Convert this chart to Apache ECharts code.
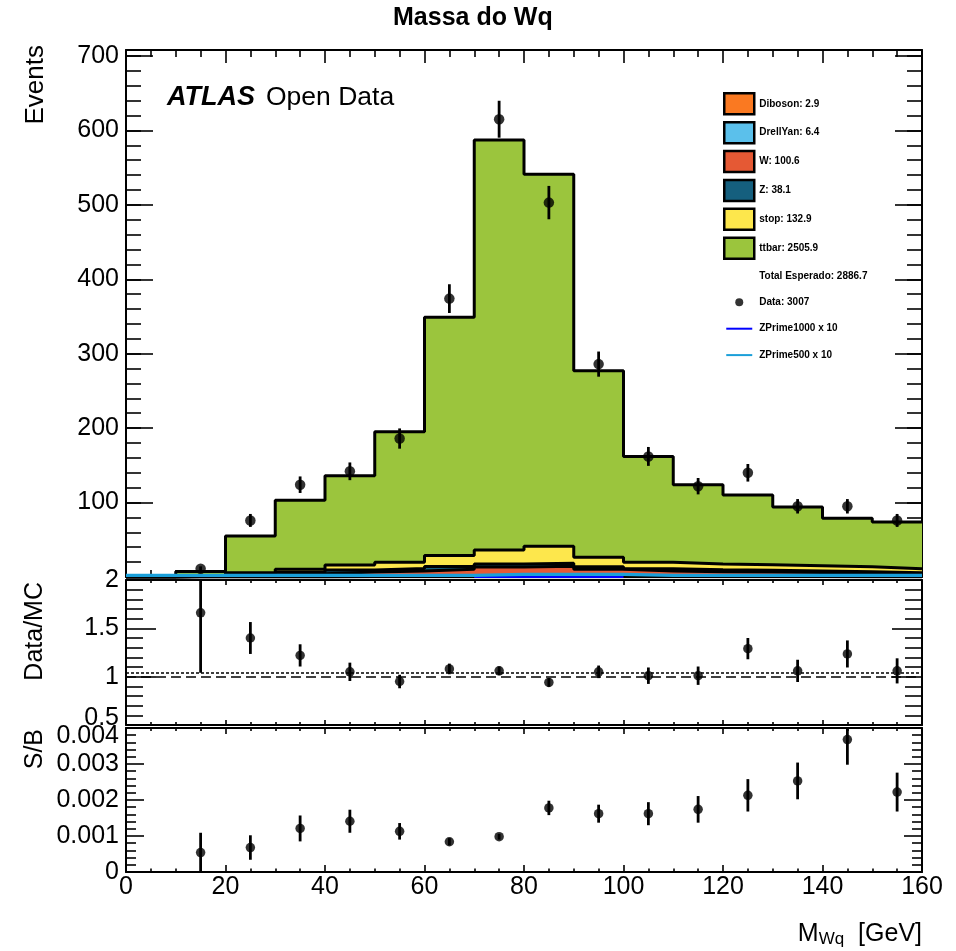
<!DOCTYPE html>
<html>

<head>
    <meta http-equiv="Content-Type" content="text/html; charset=utf-8" />
    <title>Massa do Wq</title>
    <script src="https://cdn.jsdelivr.net/npm/echarts@6/dist/echarts.min.js"></script>
    <style>
        html, body { margin: 0; padding: 0; background: #fff; }
        #div1 { width: 956px; height: 951px; }
    </style>
</head>

<body>
    <div id="div1"></div>
    <script type="text/javascript">
        // M_Wq bins [GeV]
        var binEdges = [0, 10, 20, 30, 40, 50, 60, 70, 80, 90, 100, 110, 120, 130, 140, 150, 160];

        // MC samples per bin, stacked bottom -> top
        var diboson   = [0, 0, 0, 0.1, 0.2, 0.2, 0.3, 0.3, 0.3, 0.3, 0.2, 0.2, 0.2, 0.2, 0.2, 0.2];
        var drellYan  = [0, 0.2, 0.3, 0.4, 0.5, 0.5, 0.6, 0.6, 0.6, 0.5, 0.5, 0.5, 0.4, 0.4, 0.3, 0.1];
        var wJets     = [0, 1.0, 2.5, 4.0, 6.0, 7.5, 9.5, 12.5, 13.5, 9.5, 7.5, 6.5, 6.0, 5.5, 4.8, 4.3];
        var zJets     = [0, 0.3, 1.0, 2.0, 2.8, 3.2, 3.8, 4.2, 4.2, 3.6, 3.0, 2.6, 2.5, 2.0, 1.7, 1.2];
        var singleTop = [0, 0.6, 1.8, 3.9, 6.7, 8.3, 14.8, 18.7, 22.8, 12.8, 8.5, 7.6, 7.3, 7.1, 6.7, 5.3];
        var ttbar     = [0, 5.4, 49.4, 92.6, 119.8, 175.3, 320, 550.7, 499.6, 250.3, 142.3, 106.6, 93.6, 78.8, 65.3, 62.9];
        var sampleNames = ['Diboson: 2.9', 'DrellYan: 6.4', 'W: 100.6', 'Z: 38.1', 'stop: 132.9', 'ttbar: 2505.9'];
        var sampleColors = ['#fa7921', '#5bc0eb', '#e55934', '#155f7e', '#fde74c', '#9bc53d'];

        // signal x 10
        var zPrime1000 = [0, 0, 0, 0, 0, 0, 0, 0.8, 0.8, 0.8, 0, 0, 0, 0, 0, 0];
        var zPrime500  = [2.2, 2.2, 2.2, 2.2, 2.2, 2.2, 2.2, 3.5, 3.5, 3.5, 2.2, 2.2, 2.2, 2.2, 2.2, 2.2];

        // data points
        var binCenters = [15, 25, 35, 45, 55, 65, 75, 85, 95, 105, 115, 125, 135, 145, 155];
        var dataCounts = [11, 76, 124, 142, 186, 374, 615, 503, 286, 162, 122, 140, 95, 95, 76];
        var dataErrors = [3.3, 8.7, 11.1, 11.9, 13.6, 19.3, 24.8, 22.4, 16.9, 12.7, 11.0, 11.8, 9.7, 9.7, 8.7];

        // Data/MC
        var ratioValues = [1.66, 1.40, 1.22, 1.05, 0.95, 1.08, 1.06, 0.94, 1.05, 1.01, 1.01, 1.29, 1.06, 1.235, 1.06];
        var ratioErrors = [0.62, 0.165, 0.115, 0.095, 0.07, 0.055, 0.045, 0.045, 0.065, 0.085, 0.095, 0.11, 0.115, 0.14, 0.13];
        var ratioRefLines = [1, 1.042];

        // S/B
        var sbValues = [0.00054, 0.00068, 0.00121, 0.00141, 0.00113, 0.00084, 0.00098, 0.00178, 0.00162, 0.00162, 0.00174, 0.00213, 0.00253, 0.00368, 0.00222];
        var sbErrors = [0.00055, 0.00034, 0.00036, 0.00032, 0.00023, 0.0001, 0.00008, 0.0002, 0.00025, 0.00032, 0.00037, 0.00045, 0.00051, 0.0007, 0.00054];

        var FONT = 'Liberation Sans, Arial, Helvetica, sans-serif';
        var myChart = echarts.init(document.getElementById('div1'));

        // histogram outline points, one flat segment per bin
        function histPoints(values) {
            var pts = [];
            for (var i = 0; i < values.length; i++) {
                var v = values[i] === null ? '-' : values[i];
                pts.push([binEdges[i], v]);
                pts.push([binEdges[i + 1], v]);
            }
            return pts;
        }

        function errorBars(xIdx, yIdx, ys, es) {
            return {
                type: 'custom', xAxisIndex: xIdx, yAxisIndex: yIdx, clip: true, silent: true, z: 5,
                encode: { x: 0, y: 1 },
                data: binCenters.map(function (x, i) { return [x, ys[i], es[i]]; }),
                renderItem: function (params, api) {
                    var x = api.value(0), y = api.value(1), e = api.value(2);
                    var p1 = api.coord([x, y - e]), p2 = api.coord([x, y + e]);
                    return {
                        type: 'line',
                        shape: { x1: p1[0], y1: p1[1], x2: p2[0], y2: p2[1] },
                        style: { stroke: '#000', lineWidth: 2.8 }
                    };
                }
            };
        }

        function markers(name, xIdx, yIdx, ys, size) {
            return {
                name: name, type: 'scatter', xAxisIndex: xIdx, yAxisIndex: yIdx, silent: true, z: 6,
                symbol: 'circle', symbolSize: size, itemStyle: { color: '#000' },
                data: binCenters.map(function (x, i) { return [x, ys[i]]; })
            };
        }

        var tickStyle = { color: '#000', width: 1.6 };

        function xAx(grid, pos, major, minor, showLabels) {
            return {
                type: 'value', gridIndex: grid, position: pos, min: 0, max: 160, interval: 20,
                axisLine: { show: true, onZero: false, lineStyle: { color: '#000', width: 2 } },
                axisTick: { show: true, inside: true, length: major, lineStyle: tickStyle },
                minorTick: { show: true, splitNumber: 4, length: minor, lineStyle: tickStyle },
                axisLabel: showLabels ? { show: true, margin: 3, fontSize: 25, color: '#000', fontFamily: FONT } : { show: false },
                splitLine: { show: false }
            };
        }

        function yAx(grid, pos, o) {
            return {
                type: 'value', gridIndex: grid, position: pos, min: o.min, max: o.max, interval: o.interval,
                axisLine: { show: o.line !== false, onZero: false, lineStyle: { color: '#000', width: 2 } },
                axisTick: { show: true, inside: true, length: o.tick, lineStyle: tickStyle },
                minorTick: { show: !!o.minor, splitNumber: 5, length: o.minor || 0, lineStyle: tickStyle },
                axisLabel: o.label ? {
                    show: true, margin: 7, fontSize: 25, color: '#000', fontFamily: FONT,
                    formatter: o.label, rich: o.rich
                } : { show: false },
                splitLine: { show: false }
            };
        }

        var mainLabel = function (v) { return (v > 0 && v % 100 === 0) ? String(v) : ''; };
        var ratioLabel = function (v) { return v === 0.5 ? '{lo|0.5}' : String(v); };
        var sbLabel = function (v) { return Math.abs(v - 0.004) < 1e-9 ? '{hi|0.004}' : String(v); };
        var richText = { fontSize: 25, fontFamily: FONT, color: '#000' };

        // cumulative stack
        var components = [diboson, drellYan, wJets, zJets, singleTop, ttbar];
        var cumulative = [];
        var running = components[0].map(function () { return 0; });
        components.forEach(function (c) {
            running = running.map(function (v, i) { return v + c[i]; });
            cumulative.push(running.slice());
        });

        var series = [];
        // draw like THStack: largest sum first
        for (var k = components.length - 1; k >= 0; k--) {
            series.push({
                name: sampleNames[k], type: 'line', xAxisIndex: 0, yAxisIndex: 0,
                data: histPoints(cumulative[k]), symbol: 'none', silent: true,
                color: sampleColors[k],
                lineStyle: { color: '#000', width: 3 },
                areaStyle: { color: sampleColors[k], opacity: 1 }
            });
        }
        series.push({ name: 'Total Esperado: 2886.7', type: 'line', xAxisIndex: 0, yAxisIndex: 0, data: [], symbol: 'none' });
        series.push({
            name: 'ZPrime1000 x 10', type: 'line', xAxisIndex: 0, yAxisIndex: 0, symbol: 'none', silent: true,
            color: '#0000ff', lineStyle: { color: '#0000ff', width: 3 },
            data: histPoints(zPrime1000.map(function (v) { return v > 0 ? v : null; }))
        });
        series.push({
            name: 'ZPrime500 x 10', type: 'line', xAxisIndex: 0, yAxisIndex: 0, symbol: 'none', silent: true,
            color: '#1a9fd9', lineStyle: { color: '#1a9fd9', width: 3.2 },
            data: histPoints(zPrime500)
        });
        series.push(errorBars(0, 0, dataCounts, dataErrors));
        series.push(markers('Data: 3007', 0, 0, dataCounts, 10.5));

        series.push(errorBars(2, 4, ratioValues, ratioErrors));
        var ratioMarks = markers('ratio', 2, 4, ratioValues, 9.5);
        ratioMarks.markLine = {
            silent: true, symbol: 'none', label: { show: false }, animation: false,
            data: [
                { yAxis: ratioRefLines[0], lineStyle: { color: '#000', width: 1.5, type: [10, 5] } },
                { yAxis: ratioRefLines[1], lineStyle: { color: '#000', width: 1.5, type: [3, 2] } }
            ]
        };
        series.push(ratioMarks);

        series.push(errorBars(4, 6, sbValues, sbErrors));
        series.push(markers('sb', 4, 6, sbValues, 9.5));

        var circleIcon = 'path://M0,0L0,0M30,21L30,21M11,10.5A4,4,0,1,1,19,10.5A4,4,0,1,1,11,10.5Z';
        var lineIcon = 'path://M0,0L0,0M30,21L30,21M2,9.5L28,9.5L28,11.5L2,11.5Z';
        var legendData = sampleNames.map(function (n, k) {
            return { name: n, icon: 'rect', itemStyle: { color: sampleColors[k], borderColor: '#000', borderWidth: 2.5 } };
        });
        legendData.push({ name: 'Total Esperado: 2886.7', icon: 'rect', itemStyle: { color: 'rgba(0,0,0,0)', borderWidth: 0 } });
        legendData.push({ name: 'Data: 3007', icon: circleIcon, itemStyle: { color: '#000', borderWidth: 0 } });
        legendData.push({ name: 'ZPrime1000 x 10', icon: lineIcon, itemStyle: { color: '#0000ff', borderWidth: 0 } });
        legendData.push({ name: 'ZPrime500 x 10', icon: lineIcon, itemStyle: { color: '#1a9fd9', borderWidth: 0 } });

        var option = {
            animation: false,
            backgroundColor: '#fff',
            title: {
                text: 'Massa do Wq', left: 393, top: 6, padding: 0,
                textStyle: { fontSize: 25, fontWeight: 'bold', fontFamily: FONT, color: '#000' }
            },
            legend: {
                orient: 'vertical', left: 723, top: 92, padding: 0,
                itemWidth: 30, itemHeight: 21, itemGap: 5.4, selectedMode: false,
                textStyle: { fontSize: 10, fontWeight: 'bold', color: '#000', fontFamily: FONT },
                data: legendData
            },
            grid: [
                { left: 126, top: 50, width: 796, height: 527 },
                { left: 126, top: 580, width: 796, height: 145 },
                { left: 126, top: 728, width: 796, height: 144 }
            ],
            xAxis: [
                xAx(0, 'bottom', 13, 7, false),
                xAx(0, 'top', 13, 7, false),
                xAx(1, 'bottom', 5, 3, false),
                xAx(1, 'top', 5, 3, false),
                xAx(2, 'bottom', 7, 3.5, true),
                xAx(2, 'top', 6, 3, false)
            ],
            yAxis: [
                yAx(0, 'left', { min: 0, max: 708, interval: 100, tick: 27, label: mainLabel }),
                yAx(0, 'left', { min: 0, max: 708, interval: 20, tick: 15, line: false }),
                yAx(0, 'right', { min: 0, max: 708, interval: 100, tick: 27 }),
                yAx(0, 'right', { min: 0, max: 708, interval: 20, tick: 15, line: false }),
                yAx(1, 'left', { min: 0.5, max: 2, interval: 0.5, tick: 30, minor: 17, label: ratioLabel,
                    rich: { lo: echarts.util.extend({ padding: [0, 0, 14, 0] }, richText) } }),
                yAx(1, 'right', { min: 0.5, max: 2, interval: 0.5, tick: 30, minor: 17 }),
                yAx(2, 'left', { min: 0, max: 0.004, interval: 0.001, tick: 18, minor: 10, label: sbLabel,
                    rich: { hi: echarts.util.extend({ padding: [16, 0, 0, 0] }, richText) } }),
                yAx(2, 'right', { min: 0, max: 0.004, interval: 0.001, tick: 18, minor: 10 })
            ],
            graphic: [
                {
                    type: 'text', x: 167, y: 98, silent: true,
                    style: {
                        text: '{b|ATLAS}{g| }{n|Open Data}', align: 'left', verticalAlign: 'middle',
                        textAlign: 'left', textVerticalAlign: 'middle',
                        rich: {
                            b: { fontSize: 27, fontStyle: 'italic', fontWeight: 'bold', fontFamily: FONT, fill: '#000' },
                            g: { fontSize: 27, fontFamily: FONT, fill: '#000', width: 11 },
                            n: { fontSize: 26.5, fontFamily: FONT, fill: '#000' }
                        }
                    }
                },
                {
                    type: 'text', x: 36, y: 45, rotation: Math.PI / 2, silent: true,
                    style: { text: 'Events', font: '26px ' + FONT, fill: '#000', align: 'right', verticalAlign: 'middle', textAlign: 'right', textVerticalAlign: 'middle' }
                },
                {
                    type: 'text', x: 35, y: 582, rotation: Math.PI / 2, silent: true,
                    style: { text: 'Data/MC', font: '25px ' + FONT, fill: '#000', align: 'right', verticalAlign: 'middle', textAlign: 'right', textVerticalAlign: 'middle' }
                },
                {
                    type: 'text', x: 35, y: 729, rotation: Math.PI / 2, silent: true,
                    style: { text: 'S/B', font: '25px ' + FONT, fill: '#000', align: 'right', verticalAlign: 'middle', textAlign: 'right', textVerticalAlign: 'middle' }
                },
                {
                    type: 'text', x: 922, y: 934, silent: true,
                    style: {
                        text: '{m|M}{s|Wq}{m|  [GeV]}', align: 'right', verticalAlign: 'middle',
                        textAlign: 'right', textVerticalAlign: 'middle',
                        rich: {
                            m: { fontSize: 25, fontFamily: FONT, fill: '#000' },
                            s: { fontSize: 17, fontFamily: FONT, fill: '#000', padding: [10, 0, 0, 0] }
                        }
                    }
                }
            ],
            series: series
        };
        myChart.setOption(option);
    </script>
</body>

</html>
